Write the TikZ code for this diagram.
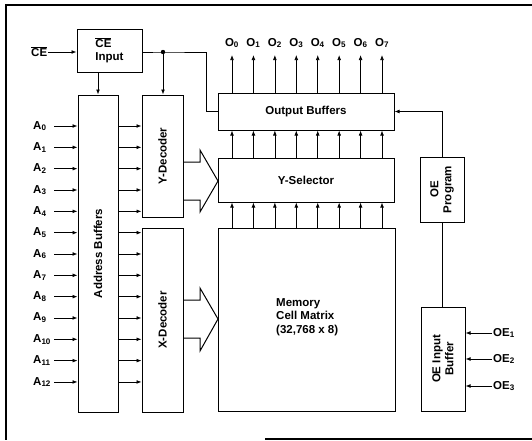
\documentclass[tikz,border=0pt]{standalone}
\usepackage{fontspec}
\setmainfont{Liberation Sans}
\usetikzlibrary{arrows.meta,calc}
\begin{document}
\begin{tikzpicture}[x=1pt,y=-1pt,
  box/.style={draw,line width=1pt,inner sep=0pt},
  lbl/.style={font=\fontsize{11.5}{13}\selectfont\bfseries,inner sep=1pt},
  arr/.style={line width=0.7pt,-{Latex[length=5pt,width=3.8pt]}},
  ln/.style={line width=0.7pt},
  hollow/.style={draw,line width=1pt,line join=miter}]
\useasboundingbox (0,0) rectangle (532,440);
% frame
\draw[line width=1.4pt] (532,5) -- (6,5) -- (6,440);
\draw[line width=1.4pt] (265,439) -- (532,439);
% boxes
\node[box,minimum width=65,minimum height=43] (ceIn) at (109.5,50.5) {};
\node[lbl,align=left] (ceInT) at (ceIn) {$\overline{\mbox{CE}}$\\Input};
\node[box,minimum width=40,minimum height=317] (addr) at (98,253.5) {};
\node[lbl,rotate=90] (addrT) at (addr) {Address Buffers};
\node[box,minimum width=41,minimum height=122] (ydec) at (162.5,156) {};
\node[lbl,rotate=90] (ydecT) at (ydec) {Y-Decoder};
\node[box,minimum width=41,minimum height=184] (xdec) at (162.5,320) {};
\node[lbl,rotate=90] (xdecT) at (xdec) {X-Decoder};
\node[box,minimum width=176,minimum height=37] (outbuf) at (306,111.5) {};
\node[lbl] (outbufT) at (outbuf) {Output Buffers};
\node[box,minimum width=176,minimum height=44] (ysel) at (306,180) {};
\node[lbl] (yselT) at (ysel) {Y-Selector};
\node[box,minimum width=177,minimum height=183] (mem) at (306.5,319.5) {};
\node[lbl,align=left,anchor=west,font=\fontsize{11.5}{13.5}\selectfont\bfseries] (memT) at (275,317) {Memory\\Cell Matrix\\(32,768 x 8)};
\node[box,minimum width=44,minimum height=65] (oeprog) at (442,189.5) {};
\node[lbl,rotate=90,align=center] (oeprogT) at (oeprog) {OE\\Program};
\node[box,minimum width=44,minimum height=104] (oebuf) at (443,359) {};
\node[lbl,rotate=90,align=center] (oebufT) at (oebuf) {OE Input\\Buffer};
% CE input
\node[lbl,anchor=west] (cel) at (30,52) {$\overline{\mbox{CE}}$};
\draw[arr] (cel.east) -- (ceIn.west |- cel.east);
\draw[arr] (ceIn.south -| 98,0) -- (addr.north -| 98,0);
\coordinate (j) at (163,52);
\coordinate (k1) at (206,52);
\draw[ln] (ceIn.east |- j) -- (j) -- (k1) -- (k1 |- outbuf.west) -- (outbuf.west);
\fill (j) circle (2.2);
\draw[arr] (j) -- (ydec.north -| j);
% address inputs
\foreach \i in {0,...,12}{
  \pgfmathsetmacro\yy{126+21.33*\i}
  \node[lbl,anchor=west] (a\i) at (32,\yy) {A\textsubscript{\i}};
  \coordinate (as\i) at (54,\yy);
  \draw[arr] (as\i) -- (addr.west |- as\i);
}
\foreach \i in {0,...,4}{\draw[arr] (addr.east |- as\i) -- (ydec.west |- as\i);}
\foreach \i in {5,...,12}{\draw[arr] (addr.east |- as\i) -- (xdec.west |- as\i);}
% data columns
\foreach \j in {0,...,7}{
  \pgfmathsetmacro\xx{232+21.43*\j}
  \node[lbl] (o\j) at (\xx,43) {O\textsubscript{\j}};
  \coordinate (ot\j) at (\xx,55);
  \draw[arr] (outbuf.north -| ot\j) -- (ot\j);
  \draw[arr] (ysel.north -| ot\j) -- (outbuf.south -| ot\j);
  \draw[arr] (mem.north -| ot\j) -- (ysel.south -| ot\j);
}
% hollow arrows
\draw[hollow] (183,162) -- (200,162) -- (200,150) -- (218,181) -- (200,212) -- (200,200) -- (183,200);
\draw[hollow] (183,300) -- (200,300) -- (200,288) -- (218,319) -- (200,351) -- (200,338) -- (183,338);
% OE
\draw[arr] (oeprog.north) -- (oeprog.north |- outbuf.east) -- (outbuf.east);
\draw[ln] (oeprog.south) -- (oeprog.south |- oebuf.north);
\foreach \k/\yy in {1/333,2/359,3/386}{
  \node[lbl,anchor=west] (oe\k) at (492,\yy) {OE\textsubscript{\k}};
  \draw[arr] (oe\k.west) -- (oebuf.east |- oe\k.west);
}
\end{tikzpicture}
\end{document}
